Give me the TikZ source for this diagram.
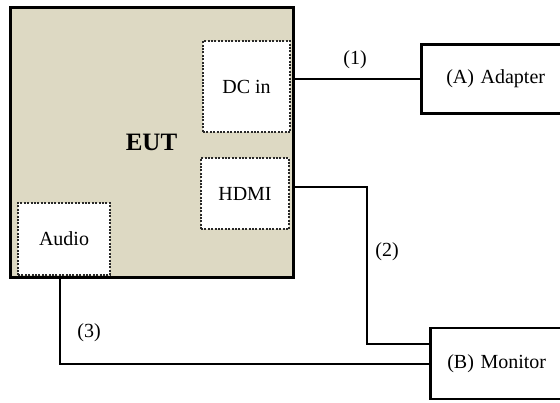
\documentclass[tikz,border=0pt]{standalone}
\usepackage{fontspec}
\setmainfont{Liberation Serif}
\usetikzlibrary{positioning,calc}
\definecolor{eutbeige}{RGB}{221,217,195}
\definecolor{portgray}{RGB}{40,40,40}
\tikzset{
  device/.style={rectangle, draw=black, line width=3pt, fill=eutbeige,
                 minimum width=283pt, minimum height=270pt, font=\fontsize{25}{30}\selectfont\bfseries},
  port/.style={rectangle, draw=portgray, line width=2pt, dash pattern=on 2pt off 1.4pt,
               fill=white, inner sep=0pt, font=\fontsize{20}{24}\selectfont},
  unit/.style={rectangle, draw=black, line width=2.5pt, fill=white, anchor=west,
               text width=150pt, align=left, inner ysep=0pt, font=\fontsize{20}{24}\selectfont},
  cable/.style={line width=2pt, black},
  tag/.style={font=\fontsize{20}{24}\selectfont},
}

\begin{document}
\begin{tikzpicture}[x=1pt, y=-1pt]
\useasboundingbox (0,0) rectangle (560,402);
\node[device] (eut) at (151.5,142) {EUT};
\node[port, minimum width=87pt, minimum height=91pt] (dcin) at (246.5,86.5) {DC in};
\node[port, minimum width=88pt, minimum height=71pt] (hdmi) at (245,193.5) {HDMI};
\node[port, minimum width=92pt, minimum height=72pt] (audio) at (64,239) {Audio};
\node[unit, inner xsep=25pt, minimum height=69pt] (adapter) at (420,79) {(A) Adapter};
\node[unit, inner xsep=17pt, minimum height=71pt] (monitor) at (429,363.5) {(B) Monitor};
% cable ends
\coordinate (hdmiout) at (eut.east |- 0,187);
\coordinate (hdmibend) at (367,344);
\coordinate (audioout) at (60,277);
\draw[cable] (adapter.west -| eut.east) -- (adapter.west);
\draw[cable] (hdmiout) -| (hdmibend) -- (hdmibend -| monitor.west);
\draw[cable] (audioout) |- (monitor.west);
% cable numbers
\node[tag] (num1) at (355,60) {(1)};
\node[tag] (num2) at (387,252) {(2)};
\node[tag] (num3) at (89,333) {(3)};
\end{tikzpicture}
\end{document}
